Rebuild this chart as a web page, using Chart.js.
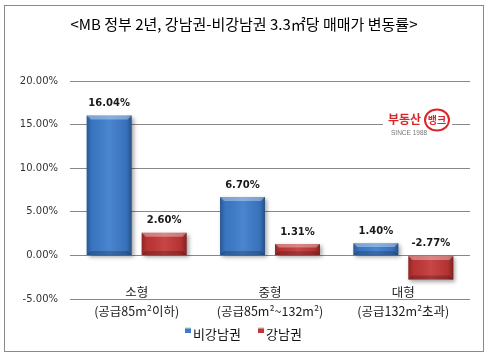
<!DOCTYPE html>
<html><head><meta charset="utf-8">
<script src="https://cdn.jsdelivr.net/npm/chart.js@4.4.1/dist/chart.umd.min.js"></script>
<style>html,body{margin:0;padding:0;background:#fff}canvas{display:block}</style>
</head><body>
<canvas id="c" width="488" height="357"></canvas>
<script>
const titleText = '<MB 정부 2년, 강남권-비강남권 3.3㎡당 매매가 변동률>';
const categories = ['소형', '중형', '대형'];
const subLabels = ['(공급85m²이하)', '(공급85m²~132m²)', '(공급132m²초과)'];
const seriesNames = ['비강남권', '강남권'];
const nonGangnam = [16.04, 6.70, 1.40];
const gangnam = [2.60, 1.31, -2.77];
const yTicks = [-5, 0, 5, 10, 15, 20];

const BLUE = '#3c7bcb', RED = '#c23636';
const KR = '"Noto Sans CJK KR", "Noto Sans", sans-serif';

const framePlugin = {
  id: 'frame',
  beforeDraw(chart) {
    const c = chart.ctx;
    c.save(); c.fillStyle = '#fff'; c.fillRect(0, 0, chart.width, chart.height); c.restore();
  },
  afterDraw(chart) {
    const c = chart.ctx;
    c.save();
    c.strokeStyle = '#8a8a8a'; c.lineWidth = 1;
    c.strokeRect(4.5, 5.5, 479, 346);
    // title
    c.fillStyle = '#000'; c.font = '15px ' + KR; c.textAlign = 'center'; c.textBaseline = 'middle';
    c.fillText(titleText, 244, 24);
    // category names (first line of the category axis labels)
    const xs0 = chart.scales.x;
    c.font = '12.5px ' + KR; c.fillStyle = '#1a1a1a';
    categories.forEach((name, i) => c.fillText(name, xs0.getPixelForValue(i), 292));
    // legend
    c.font = '13px ' + KR; c.textBaseline = 'middle'; c.textAlign = 'left';
    const cols = [BLUE, RED];
    const xs = [185, 258];
    chart.data.datasets.forEach((ds, i) => {
      const x = xs[i];
      const g = c.createLinearGradient(x, 327, x, 333);
      g.addColorStop(0, '#fff'); g.addColorStop(0.4, cols[i]); g.addColorStop(1, cols[i]);
      c.fillStyle = g; c.fillRect(x, 327, 6, 6);
      c.fillStyle = '#111'; c.fillText(ds.label, x + 8, 334);
    });
    // logo watermark
    c.fillStyle = '#fff'; c.fillRect(383, 107, 69, 31);
    c.fillStyle = '#d9262b'; c.font = 'bold 12px ' + KR; c.textAlign = 'left';
    c.fillText('부동산', 388, 119);
    c.beginPath(); c.ellipse(437, 120, 12, 10.5, 0, 0, Math.PI * 2);
    c.lineWidth = 2; c.strokeStyle = '#d9262b'; c.stroke();
    c.font = 'bold 10px ' + KR; c.textAlign = 'center';
    c.fillText('뱅크', 437, 120);
    c.fillStyle = '#777'; c.font = '6.5px "Liberation Sans", sans-serif'; c.textAlign = 'left';
    c.fillText('SINCE 1988', 391, 133);
    c.restore();
  }
};

const bevelPlugin = {
  id: 'bevel',
  beforeDatasetsDraw(chart) {
    const c = chart.ctx;
    c.save();
    c.shadowColor = 'rgba(0,0,0,0.35)'; c.shadowBlur = 4; c.shadowOffsetX = 2; c.shadowOffsetY = 2;
  },
  afterDatasetsDraw(chart) {
    const c = chart.ctx;
    c.restore();
    c.save();
    chart.data.datasets.forEach((ds, di) => {
      chart.getDatasetMeta(di).data.forEach((bar, i) => {
        const w = bar.width, l = bar.x - w / 2, r = bar.x + w / 2;
        const t = Math.min(bar.y, bar.base), b = Math.max(bar.y, bar.base);
        const h = b - t;
        const g = c.createLinearGradient(l, 0, r, 0);
        g.addColorStop(0, 'rgba(0,0,0,0.28)');
        g.addColorStop(0.12, 'rgba(0,0,0,0.05)');
        g.addColorStop(0.5, 'rgba(255,255,255,0.08)');
        g.addColorStop(0.88, 'rgba(0,0,0,0.08)');
        g.addColorStop(1, 'rgba(0,0,0,0.35)');
        c.fillStyle = g; c.fillRect(l, t, w, h);
        const bv = Math.min(4, h / 3);
        c.beginPath(); c.moveTo(l, t); c.lineTo(r, t); c.lineTo(r - bv, t + bv); c.lineTo(l + bv, t + bv); c.closePath();
        c.fillStyle = 'rgba(255,255,255,0.35)'; c.fill();
        c.beginPath(); c.moveTo(l, b); c.lineTo(r, b); c.lineTo(r - bv, b - bv); c.lineTo(l + bv, b - bv); c.closePath();
        c.fillStyle = 'rgba(0,0,0,0.2)'; c.fill();
        // value label
        c.fillStyle = '#1a1a1a'; c.font = 'bold 10px "DejaVu Sans", sans-serif';
        c.textAlign = 'center'; c.textBaseline = 'middle';
        c.fillText(ds.data[i].toFixed(2) + '%', bar.x, t - 12);
      });
    });
    c.restore();
  }
};

new Chart(document.getElementById('c'), {
  type: 'bar',
  data: {
    labels: categories,
    datasets: [
      { label: seriesNames[0], data: nonGangnam, backgroundColor: BLUE },
      { label: seriesNames[1], data: gangnam, backgroundColor: RED }
    ]
  },
  options: {
    responsive: false,
    animation: false,
    devicePixelRatio: 1,
    layout: { padding: { top: 81, left: 0, right: 18, bottom: 0 } },
    datasets: { bar: { categoryPercentage: 0.825, barPercentage: 0.818 } },
    plugins: { legend: { display: false }, title: { display: false }, tooltip: { enabled: false } },
    scales: {
      x: {
        grid: { display: false, drawTicks: false },
        border: { display: false },
        afterFit(s) { s.height = 58; },
        ticks: {
          padding: 3,
          font: { family: KR, size: 12.5, lineHeight: 1.52 },
          color: '#1a1a1a',
          callback(v, i) { return subLabels[i]; }
        }
      },
      y: {
        min: yTicks[0], max: yTicks[yTicks.length - 1],
        afterBuildTicks(s) { s.ticks = yTicks.map(v => ({ value: v })); },
        afterFit(s) { s.width = 70; },
        grid: { color: '#888', lineWidth: 1, drawTicks: false },
        border: { display: false },
        ticks: {
          padding: 12,
          font: { family: '"DejaVu Sans", sans-serif', size: 10 },
          color: '#333',
          callback(v) { return Number(v).toFixed(2) + '%'; }
        }
      }
    }
  },
  plugins: [framePlugin, bevelPlugin]
});
</script>
</body></html>
